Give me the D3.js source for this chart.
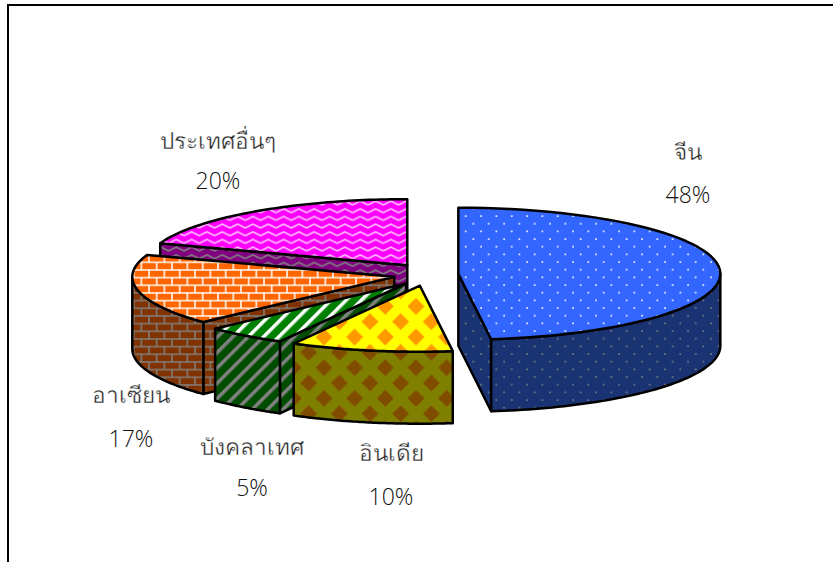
<!DOCTYPE html>
<html>
<head>
<meta charset="utf-8">
<script src="https://cdn.jsdelivr.net/npm/d3@7"></script>
<style>
  html, body { margin: 0; padding: 0; background: #fff; overflow: hidden; }
  text { font-family: "Open Sans", "Noto Sans", sans-serif; font-weight: 300; text-anchor: middle; }
  .name { font-size: 22.6px; fill: #222; stroke: #fff; stroke-width: 0.35px; }
  .pct { font-size: 23px; fill: #111; }
</style>
</head>
<body>
<svg id="chart" width="833" height="562"></svg>
<script>
const categories = ["จีน", "อินเดีย", "บังคลาเทศ", "อาเซียน", "ประเทศอื่นๆ"];
const shares = [48, 10, 5, 17.4, 19.6];
const percentLabels = ["48%", "10%", "5%", "17%", "20%"];

// layout
const radiusX = 262, radiusY = 66, depth = 72;
const pieX = 426, pieY = 274.5;
const explodeX = 32.4, explodeY = 11.4;
const tile = 15.33;
const edge = 2.5;

// label centres, one per category
const labelX = [688, 391, 252, 131, 218];
const nameY = [160, 461, 455, 403, 149];
const pctY = [203, 505, 496, 447, 189];

const px = d3.scaleLinear().domain([-1, 1]).range([-radiusX, radiusX]);
const py = d3.scaleLinear().domain([-1, 1]).range([-radiusY, radiusY]);

const svg = d3.select("#chart");
const defs = svg.append("defs");

const newTile = (id, w, h) => defs.append("pattern")
  .attr("id", id)
  .attr("patternUnits", "userSpaceOnUse")
  .attr("width", w)
  .attr("height", h);

const addDots = (id, bg, fg) => {
  const p = newTile(id, tile, tile).attr("x", 480).attr("y", 215);
  p.append("rect").attr("width", tile).attr("height", tile).attr("fill", bg);
  [0, tile / 2].forEach(c => {
    p.append("rect").attr("x", c + 0.3).attr("y", c + 0.3).attr("width", 1.6).attr("height", 1.6).attr("fill", fg);
  });
};

const addChecks = (id, bg, fg) => {
  const big = tile * 2;
  const r = 8.5;
  const p = newTile(id, big, big).attr("x", 370 - tile / 2).attr("y", 321.7 - tile / 2);
  p.append("rect").attr("width", big).attr("height", big).attr("fill", bg);
  // diamonds spill over the tile edge, so draw the wrapped copies too
  [tile / 2, tile * 1.5].forEach(c => {
    [-big, 0, big].forEach(ox => {
      [-big, 0, big].forEach(oy => {
        const x = c + ox, y = c + oy;
        p.append("path").attr("fill", fg)
          .attr("d", `M${x},${y - r}L${x + r},${y}L${x},${y + r}L${x - r},${y}Z`);
      });
    });
  });
};

const addStripes = (id, bg, fg) => {
  const w = tile / Math.SQRT2;
  const p = newTile(id, w, w).attr("patternTransform", "rotate(45)");
  p.append("rect").attr("width", w).attr("height", w).attr("fill", bg);
  p.append("rect").attr("width", 3.5).attr("height", w).attr("fill", fg);
};

const addBricks = (id, bg, fg) => {
  const h = tile / 2;
  const p = newTile(id, tile, tile).attr("x", 152.87).attr("y", 258.47);
  p.append("rect").attr("width", tile).attr("height", tile).attr("fill", bg);
  p.append("path").attr("fill", "none").attr("stroke", fg).attr("stroke-width", 1.5)
    .attr("d", `M0,${h / 2}H${tile}M0,${h * 1.5}H${tile}M${h / 2},${h / 2}V${h * 1.5}M${h * 1.5},0V${h / 2}M${h * 1.5},${h * 1.5}V${tile}`);
};

const addZigzag = (id, bg, fg) => {
  const h = tile / 2;
  const p = newTile(id, tile, h);
  p.append("rect").attr("width", tile).attr("height", h).attr("fill", bg);
  p.append("path").attr("fill", "none").attr("stroke", fg).attr("stroke-width", 1.5)
    .attr("d", `M0,${h * 0.75}L${h},${h * 0.25}L${tile},${h * 0.75}`);
};

addDots("china-top", "#3366ff", "#ffffff");
addDots("china-wall", "#1a3373", "#808080");
addChecks("india-top", "#ffff00", "#ff9900");
addChecks("india-wall", "#808000", "#804d00");
addStripes("bangla-top", "#008000", "#ffffff");
addStripes("bangla-wall", "#004d00", "#808080");
addBricks("asean-top", "#ff6600", "#ffffff");
addBricks("asean-wall", "#803300", "#808080");
addZigzag("other-top", "#ff00ff", "#ffc0ff");
addZigzag("other-wall", "#800080", "#808080");

const patternIds = ["china", "india", "bangla", "asean", "other"];

// chart frame, open on the right and at the bottom
svg.append("path")
  .attr("d", "M8,562V5H833")
  .attr("fill", "none")
  .attr("stroke", "#000")
  .attr("stroke-width", 2);

const pie = d3.pie().sort(null).value(d => d).startAngle(0).endAngle(2 * Math.PI);

const slices = pie(shares).map(s => {
  const mid = (s.startAngle + s.endAngle) / 2;
  return {
    ...s,
    cx: pieX + explodeX * Math.sin(mid),
    cy: pieY - explodeY * Math.cos(mid),
  };
});

const rim = (d, a) => [d.cx + px(Math.sin(a)), d.cy + py(-Math.cos(a))];

const arcPoints = (d, a0, a1) => d3.range(0, 61).map(i => rim(d, a0 + (a1 - a0) * i / 60));

const line = d3.line();

// back slices go first so the nearer ones cover them
const order = d3.range(slices.length).sort((a, b) => slices[a].cy - slices[b].cy);

const drawFace = (g, d, fill) => {
  g.append("path")
    .attr("d", d)
    .attr("fill", fill)
    .attr("stroke", "#000")
    .attr("stroke-width", edge)
    .attr("stroke-linejoin", "round");
};

order.forEach(i => {
  const d = slices[i];
  const id = patternIds[i];
  const g = svg.append("g");
  const drop = p => [p[0], p[1] + depth];
  const wall = p => drawFace(g, line(p.concat(p.map(drop).reverse())) + "Z", `url(#${id}-wall)`);

  // cut faces, only the ones turned to the viewer
  if (Math.sin(d.startAngle) < -1e-6) wall([[d.cx, d.cy], rim(d, d.startAngle)]);
  if (Math.sin(d.endAngle) > 1e-6) wall([[d.cx, d.cy], rim(d, d.endAngle)]);

  // outer wall, the part of the rim facing front
  const a0 = Math.max(d.startAngle, Math.PI / 2);
  const a1 = Math.min(d.endAngle, 3 * Math.PI / 2);
  if (a1 > a0) wall(arcPoints(d, a0, a1));

  // top face
  drawFace(g, line([[d.cx, d.cy]].concat(arcPoints(d, d.startAngle, d.endAngle))) + "Z", `url(#${id}-top)`);
});

svg.selectAll(".name").data(categories).join("text")
  .attr("class", "name")
  .attr("x", (d, i) => labelX[i])
  .attr("y", (d, i) => nameY[i])
  .text(d => d);

svg.selectAll(".pct").data(percentLabels).join("text")
  .attr("class", "pct")
  .attr("x", (d, i) => labelX[i])
  .attr("y", (d, i) => pctY[i])
  .text(d => d);
</script>
</body>
</html>
